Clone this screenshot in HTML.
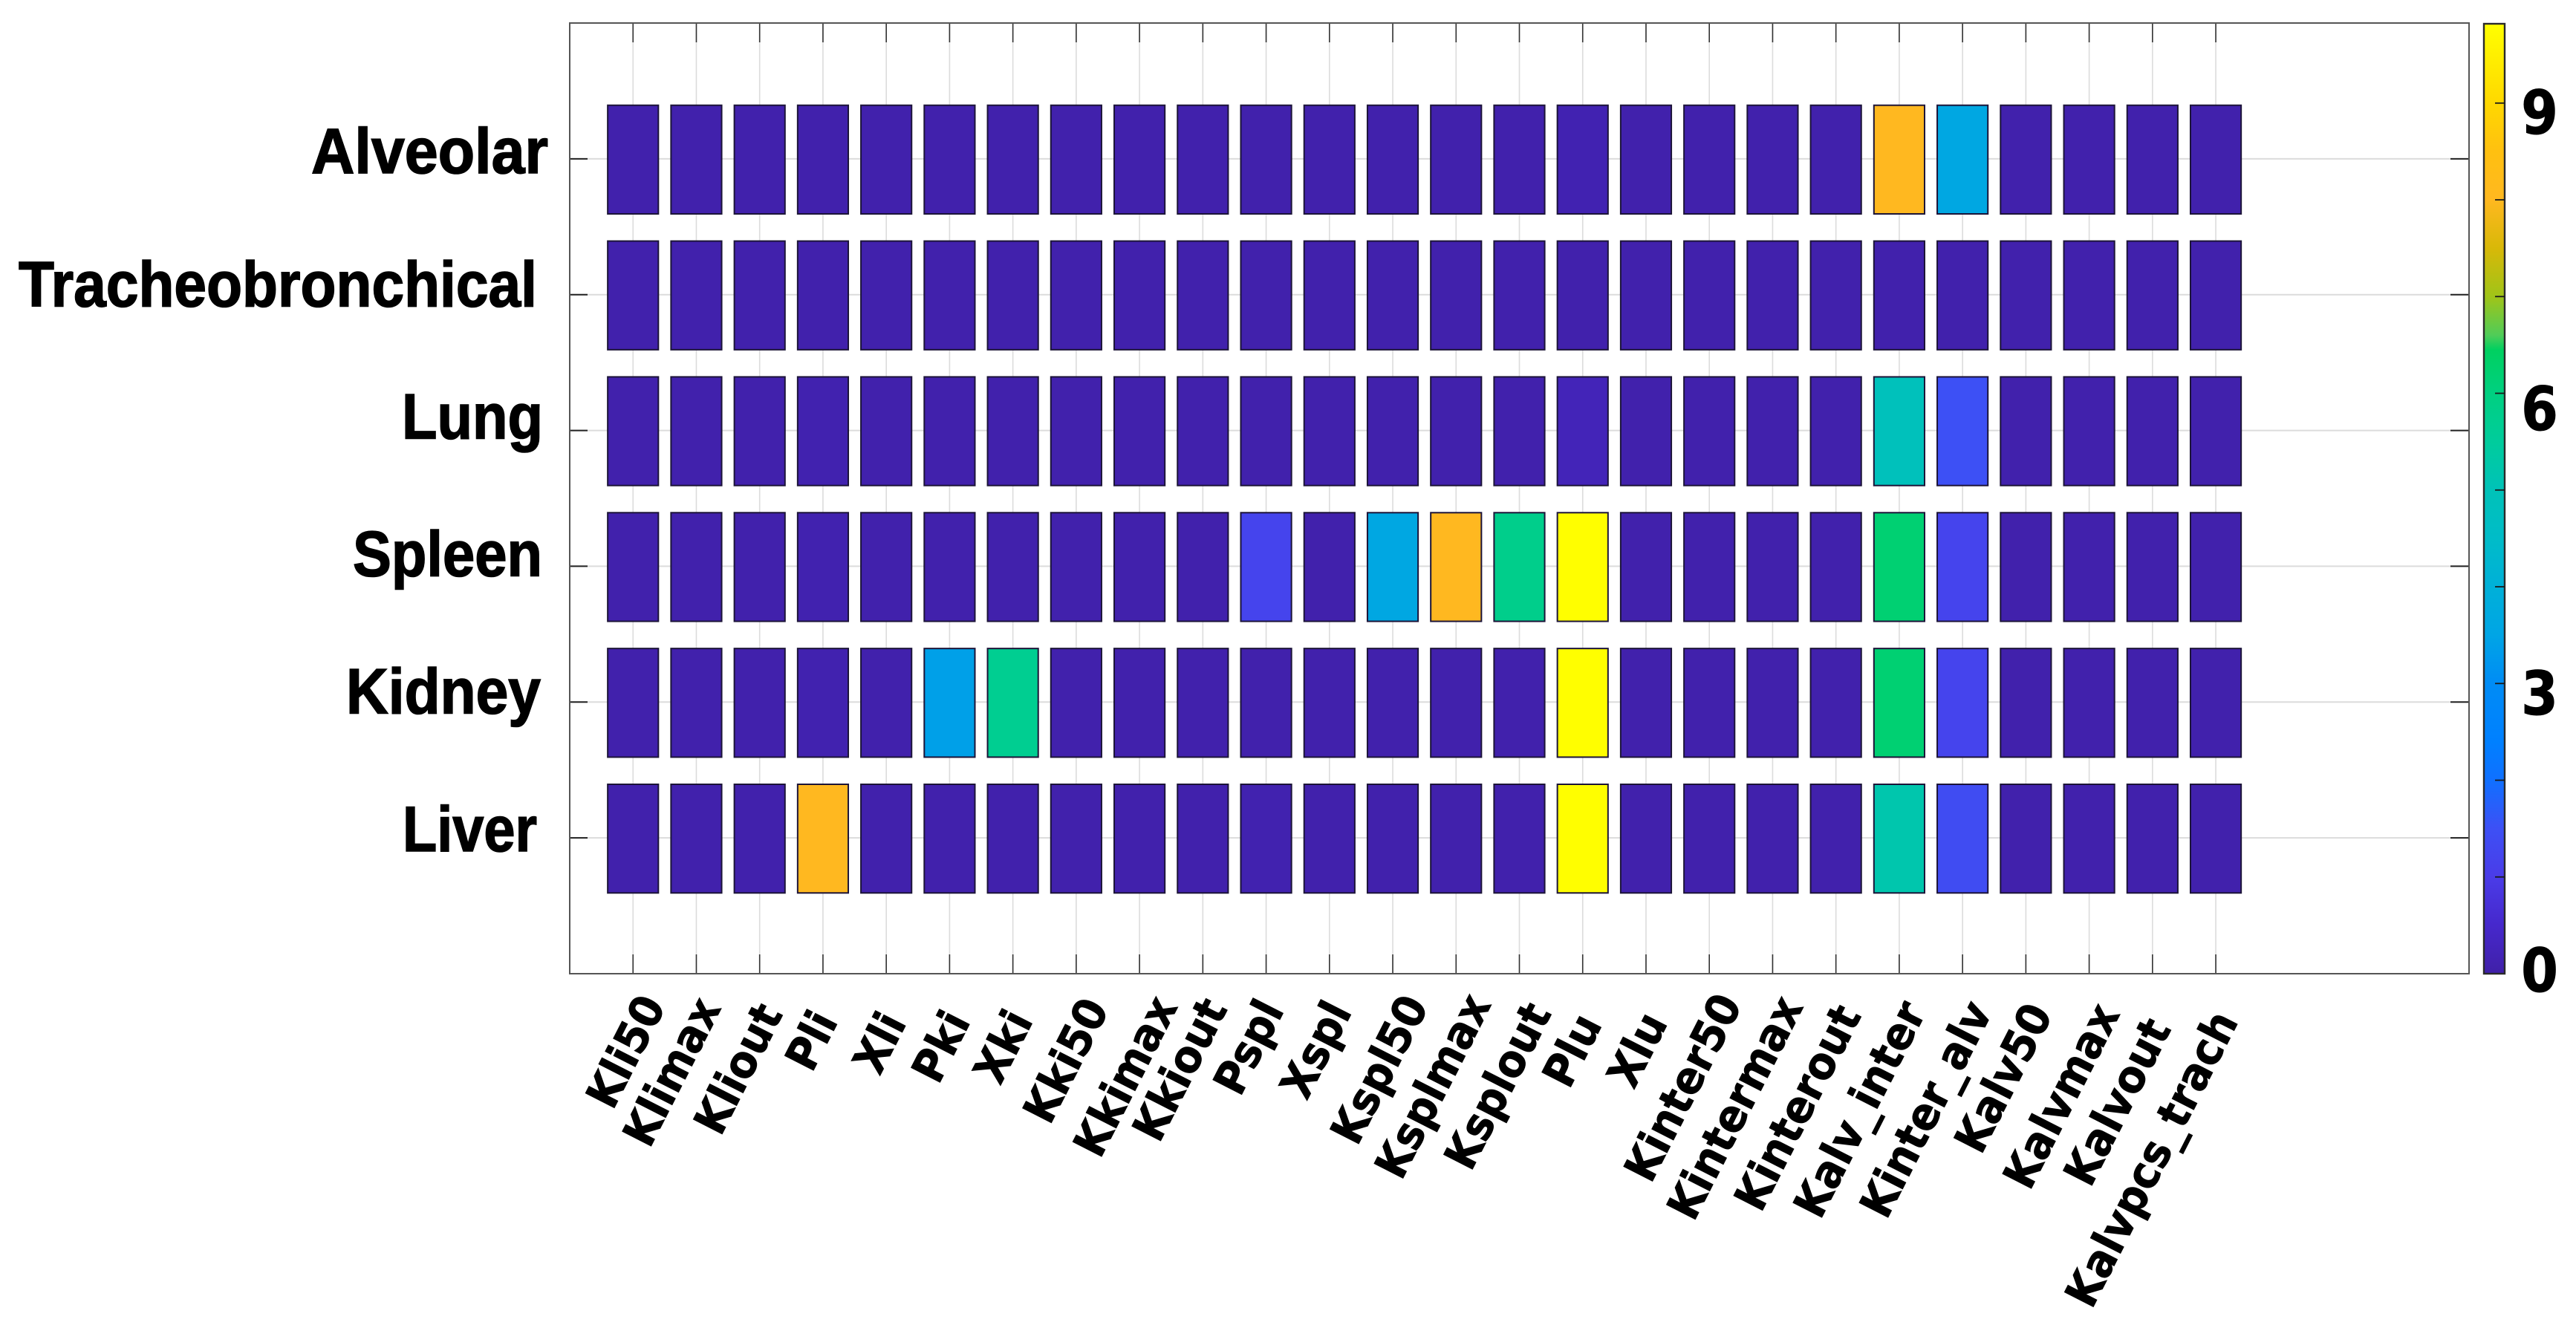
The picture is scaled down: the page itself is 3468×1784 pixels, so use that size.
<!DOCTYPE html>
<html lang="en">
<head>
<meta charset="utf-8">
<title>Parameter sensitivity heatmap</title>
<style>
html,body{margin:0;padding:0;background:#fff}
svg{display:block}
.xl{font-family:"DejaVu Sans","Liberation Sans",sans-serif;font-weight:700;font-size:56px;fill:#000;stroke:#000;stroke-width:0.8px}
.yl{font-family:"Liberation Sans",sans-serif;font-weight:700;font-size:86px;fill:#000;stroke:#000;stroke-width:1.6px}
.cl{font-family:"DejaVu Sans","Liberation Sans",sans-serif;font-weight:700;font-size:81px;fill:#000;stroke:#000;stroke-width:1px}
</style>
</head>
<body>
<svg id="chart" xmlns="http://www.w3.org/2000/svg" width="3468" height="1784" viewBox="0 0 3468 1784">
<rect x="0" y="0" width="3468" height="1784" fill="#ffffff"/>
<defs><linearGradient id="cbGrad" x1="0" y1="1" x2="0" y2="0"></linearGradient></defs>
</svg>
<script>
// ---- data ----
const categories = ["Kli50","Klimax","Kliout","Pli","Xli","Pki","Xki","Kki50","Kkimax","Kkiout","Pspl","Xspl","Kspl50","Ksplmax","Ksplout","Plu","Xlu","Kinter50","Kintermax","Kinterout","Kalv_inter","Kinter_alv","Kalv50","Kalvmax","Kalvout","Kalvpcs_trach"];
const rowLabels = ["Alveolar","Tracheobronchical","Lung","Spleen","Kidney","Liver"];
const alveolarValues = [0.05,0.05,0.05,0.05,0.05,0.05,0.05,0.05,0.05,0.05,0.05,0.05,0.05,0.05,0.05,0.12,0.05,0.05,0.05,0.05,8.0,3.6,0.05,0.05,0.05,0.05];
const tracheoValues = [0.05,0.05,0.05,0.05,0.05,0.05,0.05,0.05,0.05,0.05,0.05,0.05,0.05,0.05,0.05,0.05,0.05,0.05,0.05,0.05,0.05,0.05,0.05,0.05,0.05,0.05];
const lungValues = [0.05,0.05,0.05,0.1,0.05,0.05,0.05,0.05,0.05,0.05,0.05,0.05,0.05,0.05,0.05,0.22,0.05,0.05,0.05,0.05,4.9,1.5,0.05,0.05,0.05,0.05];
const spleenValues = [0.05,0.05,0.05,0.1,0.05,0.05,0.05,0.05,0.05,0.05,1.2,0.05,3.6,8.0,5.8,9.8,0.05,0.05,0.05,0.05,6.2,1.2,0.05,0.05,0.05,0.05];
const kidneyValues = [0.05,0.05,0.05,0.1,0.05,3.4,5.7,0.05,0.05,0.05,0.05,0.05,0.05,0.05,0.05,9.8,0.05,0.05,0.05,0.05,6.2,1.2,0.05,0.05,0.05,0.05];
const liverValues = [0.05,0.05,0.05,8.0,0.05,0.05,0.05,0.05,0.05,0.05,0.1,0.05,0.05,0.05,0.05,9.8,0.05,0.05,0.05,0.05,5.2,1.4,0.05,0.05,0.05,0.05];
const colorbarTicks = [0,1,2,3,4,5,6,7,8,9];
const colorbarLabels = ["0","3","6","9"];
const colormapValues = [0,0.5,1,1.5,2,2.4,3,3.5,4,4.5,5,5.5,6,6.45,6.6,7,7.5,8,8.5,9,9.5,9.82];
const colormapColors = ["#4020a8","#4628cc","#4a3ce8","#3d50f5","#1070ff","#0080ff","#008cf5","#00a5e5","#00b0d8","#00bcc8","#00c2b8","#00cc9c","#00d080","#00d060","#50cc58","#a0c418","#d8b808","#ffb820","#ffc010","#ffd800","#fff000","#ffff00"];
const seriesByRow = [alveolarValues,tracheoValues,lungValues,spleenValues,kidneyValues,liverValues];

// ---- layout (not data) ----
const FRAME = {left:767,right:3324,top:31,bottom:1311};
const XMAX = 30, YMAX = 7, CELL = 0.8;
const BAR = {left:3344,right:3372,top:32,bottom:1311,max:9.82};
// hand-tuned placement of labels relative to their ticks: [dx from tick, y of top]
const xLabelNudge = [[42,1336],[31,1339],[29,1347],[18,1357],[25,1359],[26,1357],[25,1356],[42,1340],[49,1337],[31,1340],[22,1342],[28,1344],[46,1336],[45,1334],[41,1346],[24,1361],[27,1359],[42,1334],[39,1337],[32,1349],[34,1344],[38,1344],[34,1347],[39,1347],[23,1367],[28,1357]];
// [dy of baseline from tick, left edge, ink width]
const yLabelFit = [[19,419,319],[16,25,698],[11,541,190],[13,475,255],[15,466,262],[18,542,181]];
const cbLabelFit = {"0":1335,"3":962,"6":579,"9":180};

const xScale = v => FRAME.left + v/XMAX*(FRAME.right-FRAME.left);
const yScale = v => FRAME.top + v/YMAX*(FRAME.bottom-FRAME.top);
const cbScale = v => BAR.bottom - v/BAR.max*(BAR.bottom-BAR.top);

const svg = document.getElementById('chart');
const NS = 'http://www.w3.org/2000/svg';
function mk(tag, attrs, parent){
  const el = document.createElementNS(NS, tag);
  for (const k in attrs) el.setAttribute(k, attrs[k]);
  (parent||svg).appendChild(el);
  return el;
}
function hex(c){return [1,3,5].map(i=>parseInt(c.substr(i,2),16));}
function colorFor(v){
  const n = colormapValues.length;
  if (v <= colormapValues[0]) return colormapColors[0];
  if (v >= colormapValues[n-1]) return colormapColors[n-1];
  for (let i=1;i<n;i++){
    if (v <= colormapValues[i]){
      const t = (v-colormapValues[i-1])/(colormapValues[i]-colormapValues[i-1]);
      const a = hex(colormapColors[i-1]), b = hex(colormapColors[i]);
      return 'rgb('+a.map((x,j)=>Math.round(x+(b[j]-x)*t)).join(',')+')';
    }
  }
}

// gridlines
categories.forEach((c,i)=>{
  const x = xScale(i+1);
  const g = mk('line',{x1:x,x2:x,y1:FRAME.top,y2:FRAME.bottom,stroke:'#dcdcdc','stroke-width':1.6});
  
  
});
rowLabels.forEach((r,i)=>{
  const y = yScale(i+1);
  const g = mk('line',{x1:FRAME.left,x2:FRAME.right,y1:y,y2:y,stroke:'#dcdcdc','stroke-width':2});
  
  
});

// heatmap cells
seriesByRow.forEach((vals,r)=>{
  vals.forEach((v,c)=>{
    const x0 = xScale(c+1-CELL/2), x1 = xScale(c+1+CELL/2);
    const y0 = yScale(r+1-CELL/2)+1, y1 = yScale(r+1+CELL/2)+1;
    const cell = mk('rect',{x:x0,y:y0,width:x1-x0,height:y1-y0,fill:colorFor(v),stroke:'#1c1438','stroke-width':2});
    
    
  });
});

// ticks
categories.forEach((c,i)=>{
  const x = xScale(i+1);
  [[FRAME.bottom-26,FRAME.bottom],[FRAME.top,FRAME.top+26]].forEach(p=>{
    const t = mk('line',{x1:x,x2:x,y1:p[0],y2:p[1],stroke:'#333','stroke-width':1.6});
    
    
  });
});
rowLabels.forEach((r,i)=>{
  const y = yScale(i+1);
  [[FRAME.left,FRAME.left+24],[FRAME.right-25,FRAME.right]].forEach(p=>{
    const t = mk('line',{x1:p[0],x2:p[1],y1:y,y2:y,stroke:'#222','stroke-width':2});
    
    
  });
});

// frame
const frame = mk('rect',{x:FRAME.left,y:FRAME.top,width:FRAME.right-FRAME.left,height:FRAME.bottom-FRAME.top,fill:'none',stroke:'#555','stroke-width':2});



// y labels
rowLabels.forEach((r,i)=>{
  const fit = yLabelFit[i];
  const t = mk('text',{x:fit[1],y:yScale(i+1)+fit[0],'class':'yl',textLength:fit[2],lengthAdjust:'spacingAndGlyphs'});
  t.textContent = r;
  
  
});

// x labels
const ANGLE = 63;
categories.forEach((c,i)=>{
  const n = xLabelNudge[i];
  const px = xScale(i+1)+n[0]+3, py = n[1]+18;
  const t = mk('text',{'class':'xl','text-anchor':'end',transform:'translate('+px+' '+py+') rotate(-'+ANGLE+') scale(1 1.07)'});
  t.textContent = c;
  
  
});

// colorbar
const grad = document.getElementById('cbGrad');
colormapValues.forEach((v,i)=>{
  mk('stop',{offset:(v/BAR.max*100)+'%','stop-color':colormapColors[i]},grad);
});
const bar = mk('rect',{x:BAR.left,y:BAR.top,width:BAR.right-BAR.left,height:BAR.bottom-BAR.top,fill:'url(#cbGrad)',stroke:'#2a2a2a','stroke-width':2.4});


colorbarTicks.forEach(v=>{
  if (v===0) return;
  const y = cbScale(v);
  const t = mk('line',{x1:BAR.right-13,x2:BAR.right,y1:y,y2:y,stroke:'#1a1a1a','stroke-width':1.8});
  
  
});
colorbarLabels.forEach(l=>{
  const t = mk('text',{'class':'cl','text-anchor':'middle',transform:'translate(3419 '+cbLabelFit[l]+') scale(0.88 1)'});
  t.textContent = l;
  
  
});
</script>
</body>
</html>
